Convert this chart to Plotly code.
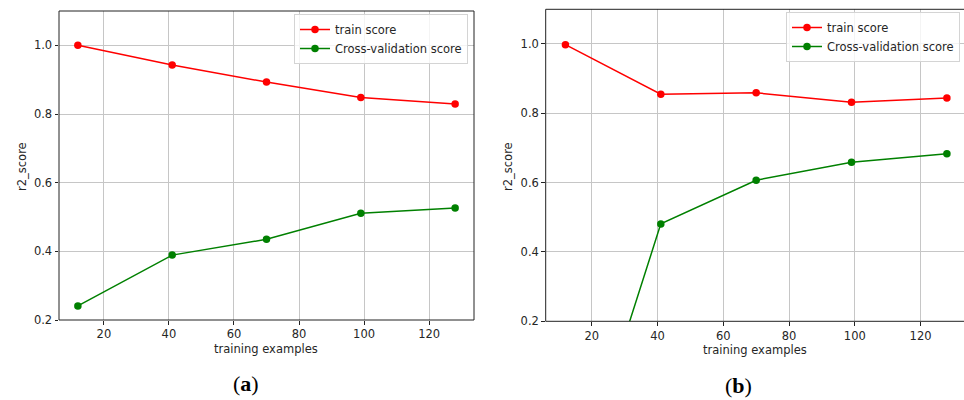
import plotly.graph_objects as go

# Learning-curve data: training set sizes and r2 scores
train_sizes = [12, 41, 70, 99, 128]

train_a = [1.000, 0.943, 0.893, 0.848, 0.829]
cv_a = [0.241, 0.389, 0.435, 0.511, 0.526]

train_b = [0.998, 0.855, 0.859, 0.832, 0.844]
cv_b = [-0.38, 0.481, 0.607, 0.659, 0.683]

y_ticks = [0.2, 0.4, 0.6, 0.8, 1.0]
x_ticks = [20, 40, 60, 80, 100, 120]

W, H = 964, 400
FONT = "DejaVu Sans"
TXT = "#262626"
RED = "#ff0000"
GREEN = "#008000"


def px_x(p):
    return p / W


def px_y(p):
    return 1 - p / H


fig = go.Figure()

panels = [
    ("x", "y", "legend", train_a, cv_a),
    ("x2", "y2", "legend2", train_b, cv_b),
]
for xa, ya, lg, tr, cv in panels:
    fig.add_trace(go.Scatter(
        x=train_sizes, y=tr, mode="lines+markers", name="train score",
        line=dict(color=RED, width=1.5), marker=dict(color=RED, size=7.5),
        xaxis=xa, yaxis=ya, legend=lg))
    fig.add_trace(go.Scatter(
        x=train_sizes, y=cv, mode="lines+markers", name="Cross-validation score",
        line=dict(color=GREEN, width=1.5), marker=dict(color=GREEN, size=7.5),
        xaxis=xa, yaxis=ya, legend=lg))

axis_common = dict(
    showline=False, zeroline=False, showgrid=True, automargin=False,
    gridcolor="#c6c6c6", gridwidth=1,
    ticks="outside", ticklen=3.5, tickwidth=1, tickcolor="#222222",
    tickfont=dict(family=FONT, size=11.5, color=TXT),
)

fig.update_layout(
    width=W, height=H,
    margin=dict(l=0, r=0, t=0, b=0, pad=0, autoexpand=False),
    paper_bgcolor="white", plot_bgcolor="white",
    showlegend=True,
    xaxis=dict(domain=[px_x(59), px_x(474)], range=[6.2, 133.8],
               tickvals=x_ticks, anchor="y", **axis_common),
    yaxis=dict(domain=[px_y(320), px_y(11)], range=[0.2, 1.1],
               tickvals=y_ticks, tickformat=".1f", anchor="x", **axis_common),
    xaxis2=dict(domain=[px_x(545.7), 1.0], range=[6.0, 133.2],
                tickvals=x_ticks, anchor="y2", **axis_common),
    yaxis2=dict(domain=[px_y(321.3), px_y(9.3)], range=[0.2, 1.1],
                tickvals=y_ticks, tickformat=".1f", anchor="x2", **axis_common),
)

legend_common = dict(
    bgcolor="rgba(255,255,255,0.8)", bordercolor="#d4d4d4", borderwidth=1,
    font=dict(family=FONT, size=11.5, color=TXT),
    xanchor="right", yanchor="top", itemwidth=30, tracegroupgap=0,
    xref="paper", yref="paper",
)
fig.update_layout(
    legend=dict(x=px_x(468), y=px_y(14), **legend_common),
    legend2=dict(x=px_x(960), y=px_y(12), **legend_common),
)

# Axes frames (panel b runs past the right edge, so no right spine)
spine = dict(color="#222222", width=1)
fig.add_shape(type="rect", xref="x domain", yref="y domain",
              x0=0, x1=1, y0=0, y1=1, line=spine, layer="above")
for x0, y0, x1, y1 in [(0, 0, 0, 1), (0, 0, 1, 0), (0, 1, 1, 1)]:
    fig.add_shape(type="line", xref="x2 domain", yref="y2 domain",
                  x0=x0, y0=y0, x1=x1, y1=y1, line=spine, layer="above")

centered = dict(xref="paper", yref="paper", showarrow=False,
                xanchor="center", yanchor="middle")

# Axis titles
for cx, cy in [(22, 167), (508, 167)]:
    fig.add_annotation(text="r2_score", x=px_x(cx), y=px_y(cy), textangle=-90,
                       font=dict(family=FONT, size=11.5, color=TXT), **centered)
for cx, cy in [(266, 349), (755, 350)]:
    fig.add_annotation(text="training examples", x=px_x(cx), y=px_y(cy),
                       font=dict(family=FONT, size=11.5, color=TXT), **centered)

# Panel captions
for label, cx, cy in [("a", 246, 383), ("b", 738, 385)]:
    fig.add_annotation(text=f"(<b>{label}</b>)", x=px_x(cx), y=px_y(cy),
                       font=dict(family="Liberation Serif", size=22, color="black"),
                       **centered)

fig.write_html("out.html")
